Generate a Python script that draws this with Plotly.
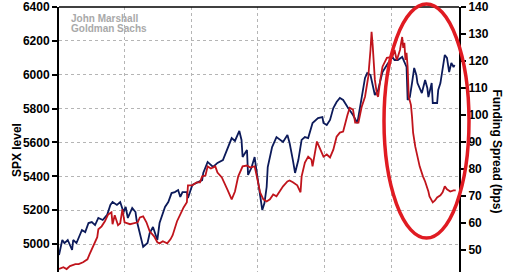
import plotly.graph_objects as go

# ---- data ----
spx_dates = [
    "2024-02-01", "2024-02-04", "2024-02-06", "2024-02-09", "2024-02-13", "2024-02-14", "2024-02-17",
    "2024-02-22", "2024-02-25", "2024-02-28", "2024-03-02", "2024-03-05", "2024-03-08", "2024-03-12",
    "2024-03-16", "2024-03-19", "2024-03-21", "2024-03-25", "2024-03-28", "2024-03-31", "2024-04-02",
    "2024-04-04", "2024-04-08", "2024-04-11", "2024-04-12", "2024-04-15", "2024-04-18", "2024-04-22",
    "2024-04-24", "2024-04-27", "2024-04-29", "2024-05-01", "2024-05-03", "2024-05-08", "2024-05-11",
    "2024-05-14", "2024-05-17", "2024-05-20", "2024-05-22", "2024-05-24", "2024-05-28", "2024-05-29",
    "2024-06-02", "2024-06-06", "2024-06-11", "2024-06-12", "2024-06-16", "2024-06-21", "2024-06-25",
    "2024-06-30", "2024-07-04", "2024-07-08", "2024-07-11", "2024-07-15", "2024-07-17", "2024-07-18",
    "2024-07-22", "2024-07-23", "2024-07-26", "2024-07-29", "2024-07-31", "2024-08-03", "2024-08-05",
    "2024-08-07", "2024-08-09", "2024-08-10", "2024-08-14", "2024-08-18", "2024-08-21", "2024-08-24",
    "2024-08-28", "2024-08-30", "2024-09-02", "2024-09-04", "2024-09-07", "2024-09-10", "2024-09-13",
    "2024-09-16", "2024-09-20", "2024-09-25", "2024-09-29", "2024-09-30", "2024-10-03", "2024-10-06",
    "2024-10-09", "2024-10-12", "2024-10-15", "2024-10-18", "2024-10-22", "2024-10-24", "2024-10-27",
    "2024-10-31", "2024-11-04", "2024-11-07", "2024-11-09", "2024-11-12", "2024-11-13", "2024-11-16",
    "2024-11-19", "2024-11-23", "2024-11-27", "2024-12-02", "2024-12-04", "2024-12-07", "2024-12-11",
    "2024-12-14", "2024-12-15", "2024-12-16", "2024-12-18", "2024-12-20", "2024-12-22", "2024-12-24",
    "2024-12-25", "2024-12-29", "2025-01-01", "2025-01-03", "2025-01-04", "2025-01-07", "2025-01-08",
    "2025-01-12", "2025-01-13", "2025-01-15", "2025-01-19", "2025-01-21", "2025-01-23", "2025-01-25",
    "2025-01-27", "2025-01-28",
]
spx_level = [
    4935, 5024, 5006, 5024, 4965, 5024, 5006,
    5083, 5071, 5124, 5130, 5112, 5154, 5142,
    5172, 5231, 5248, 5231, 5248, 5189, 5219,
    5154, 5213, 5189, 5142, 5065, 4983, 5006,
    5065, 5101, 5065, 5024, 5124, 5219, 5248,
    5301, 5307, 5319, 5278, 5307, 5307, 5272,
    5349, 5360, 5378, 5420, 5485, 5455, 5479,
    5496, 5567, 5626, 5609, 5668, 5615, 5514,
    5555, 5408, 5449, 5514, 5420, 5290, 5201,
    5242, 5337, 5455, 5573, 5632, 5620, 5603,
    5644, 5597, 5496, 5420, 5496, 5615, 5632,
    5626, 5715, 5744, 5750, 5715, 5703, 5733,
    5803, 5839, 5863, 5851, 5809, 5792, 5762,
    5715, 5868, 5981, 6010, 5998, 5969, 5880,
    5910, 6016, 6057, 6105, 6087, 6087, 6105,
    6057, 6046, 5851, 5868, 5951, 6040, 5998,
    5951, 5892, 5969, 5922, 5868, 5951, 5833,
    5833, 5910, 5951, 6117, 6099, 6016, 6069,
    6046, 6057,
]

spread_dates = [
    "2024-02-01", "2024-02-05", "2024-02-08", "2024-02-11", "2024-02-16", "2024-02-19", "2024-02-23",
    "2024-02-27", "2024-02-29", "2024-03-03", "2024-03-07", "2024-03-08", "2024-03-11", "2024-03-14",
    "2024-03-17", "2024-03-20", "2024-03-21", "2024-03-23", "2024-03-26", "2024-03-28", "2024-03-30",
    "2024-04-01", "2024-04-06", "2024-04-09", "2024-04-13", "2024-04-15", "2024-04-18", "2024-04-21",
    "2024-04-24", "2024-04-28", "2024-05-01", "2024-05-03", "2024-05-06", "2024-05-10", "2024-05-13",
    "2024-05-15", "2024-05-19", "2024-05-22", "2024-05-25", "2024-05-28", "2024-05-29", "2024-06-02",
    "2024-06-06", "2024-06-09", "2024-06-11", "2024-06-14", "2024-06-16", "2024-06-19", "2024-06-23",
    "2024-06-25", "2024-06-29", "2024-07-04", "2024-07-06", "2024-07-08", "2024-07-11", "2024-07-14",
    "2024-07-18", "2024-07-22", "2024-07-25", "2024-07-29", "2024-07-31", "2024-08-03", "2024-08-06",
    "2024-08-09", "2024-08-12", "2024-08-15", "2024-08-18", "2024-08-21", "2024-08-24", "2024-08-28",
    "2024-08-30", "2024-09-02", "2024-09-06", "2024-09-09", "2024-09-10", "2024-09-13", "2024-09-16",
    "2024-09-19", "2024-09-20", "2024-09-24", "2024-09-27", "2024-09-30", "2024-10-03", "2024-10-06",
    "2024-10-09", "2024-10-12", "2024-10-15", "2024-10-18", "2024-10-22", "2024-10-24", "2024-10-27",
    "2024-10-29", "2024-11-01", "2024-11-04", "2024-11-07", "2024-11-10", "2024-11-12", "2024-11-13",
    "2024-11-14", "2024-11-16", "2024-11-18", "2024-11-19", "2024-11-21", "2024-11-23", "2024-11-27",
    "2024-12-02", "2024-12-04", "2024-12-06", "2024-12-07", "2024-12-09", "2024-12-11", "2024-12-12",
    "2024-12-13", "2024-12-14", "2024-12-15", "2024-12-16", "2024-12-17", "2024-12-19", "2024-12-20",
    "2024-12-21", "2024-12-23", "2024-12-25", "2024-12-27", "2024-12-30", "2025-01-01", "2025-01-04",
    "2025-01-05", "2025-01-08", "2025-01-10", "2025-01-12", "2025-01-15", "2025-01-17", "2025-01-19",
    "2025-01-21", "2025-01-24", "2025-01-27", "2025-01-29",
]
spread_bps = [
    43.0, 43.7, 43.0, 44.1, 44.8, 44.8, 45.5,
    46.6, 48.5, 51.4, 54.8, 57.7, 58.8, 60.7,
    63.2, 64.0, 59.6, 62.9, 59.2, 59.9, 65.1,
    60.3, 59.6, 59.9, 60.3, 62.1, 62.5, 60.3,
    57.0, 55.1, 52.9, 52.5, 53.3, 52.5, 54.0,
    55.5, 60.7, 63.2, 65.8, 67.7, 74.0, 74.0,
    75.1, 75.1, 77.3, 77.6, 81.0, 80.2, 81.0,
    78.7, 76.9, 72.5, 70.6, 68.8, 71.7, 77.3,
    81.0, 81.3, 80.6, 81.0, 77.3, 71.4, 68.8,
    68.0, 68.8, 70.6, 69.9, 71.7, 73.6, 75.4,
    75.8, 75.1, 74.0, 71.4, 77.3, 82.4, 84.6,
    83.5, 81.0, 90.2, 87.2, 84.6, 85.4, 84.3,
    87.2, 92.0, 93.5, 93.9, 100.1, 102.7, 102.0,
    97.2, 97.2, 103.1, 106.8, 114.2, 124.1, 130.8,
    126.0, 113.1, 107.5, 106.8, 113.1, 117.9, 121.2,
    121.5, 124.1, 120.4, 121.5, 124.1, 128.9, 124.9,
    126.7, 120.4, 123.0, 117.9, 106.8, 103.8, 99.4,
    93.5, 88.3, 84.6, 81.0, 77.3, 75.4, 71.7,
    69.9, 67.7, 68.4, 69.5, 70.3, 71.4, 73.6,
    72.5, 71.7, 72.1, 72.1,
]

spx_ticks = [5000, 5200, 5400, 5600, 5800, 6000, 6200, 6400]
spread_ticks = [50, 60, 70, 80, 90, 100, 110, 120, 130, 140]
left_title = "SPX level"
right_title = "Funding Spread (bps)"
source_lines = ["John Marshall", "Goldman Sachs"]

FONT = "Liberation Sans, Arial, sans-serif"
BLUE = "#0c1a5a"
RED = "#c0141c"
GRID = "#b5b5b5"

fig = go.Figure()
fig.add_trace(go.Scatter(x=spx_dates, y=spx_level, mode="lines",
                         line=dict(color=BLUE, width=1.8), yaxis="y", showlegend=False))
fig.add_trace(go.Scatter(x=spread_dates, y=spread_bps, mode="lines",
                         line=dict(color=RED, width=1.8), yaxis="y2", showlegend=False))

tickfont = dict(family=FONT, size=12, color="#000000", weight="bold")

fig.update_layout(
    width=520, height=272,
    margin=dict(l=59, r=61, t=7, b=0),
    paper_bgcolor="white", plot_bgcolor="white",
    xaxis=dict(type="date", range=["2024-02-01", "2025-02-01"],
               tick0="2024-02-01", dtick="M2", showticklabels=False,
               showgrid=True, gridcolor=GRID, griddash="dot", gridwidth=1,
               ticks="", showline=False, zeroline=False),
    yaxis=dict(range=[4835, 6400], tickvals=spx_ticks, ticks="outside", ticklen=5,
               tickwidth=1.5, tickcolor="black", showline=True, linecolor="black",
               linewidth=2, showgrid=True, gridcolor=GRID, griddash="dot", gridwidth=1,
               zeroline=False, tickfont=tickfont),
    yaxis2=dict(range=[41.9, 140], tickvals=spread_ticks, overlaying="y", side="right",
                ticks="outside", ticklen=5, tickwidth=1.5, tickcolor="black",
                showline=True, linecolor="black", linewidth=2, showgrid=False,
                zeroline=False, tickfont=tickfont),
    shapes=[
        dict(type="line", xref="paper", yref="paper", x0=0, x1=1, y0=1, y1=1,
             line=dict(color="black", width=1.5)),
        dict(type="circle", xref="paper", yref="paper",
             x0=0.8125, x1=1.025, y0=0.128, y1=1.011,
             line=dict(color="#e01b22", width=3.5)),
    ],
    annotations=[
        dict(text=source_lines[0], xref="paper", yref="paper", x=0.025, y=0.958,
             xanchor="left", yanchor="middle", showarrow=False,
             font=dict(family=FONT, size=10, color="#a9a9a9", weight="bold")),
        dict(text=source_lines[1], xref="paper", yref="paper", x=0.025, y=0.920,
             xanchor="left", yanchor="middle", showarrow=False,
             font=dict(family=FONT, size=10, color="#a9a9a9", weight="bold")),
        dict(text=left_title, xref="paper", yref="paper", x=-0.105, y=0.46,
             xanchor="center", yanchor="middle", textangle=-90, showarrow=False,
             font=dict(family=FONT, size=12, color="black", weight="bold")),
        dict(text=right_title, xref="paper", yref="paper", x=1.095, y=0.455,
             xanchor="center", yanchor="middle", textangle=90, showarrow=False,
             font=dict(family=FONT, size=12, color="black", weight="bold")),
    ],
)

fig.write_html("out.html")
